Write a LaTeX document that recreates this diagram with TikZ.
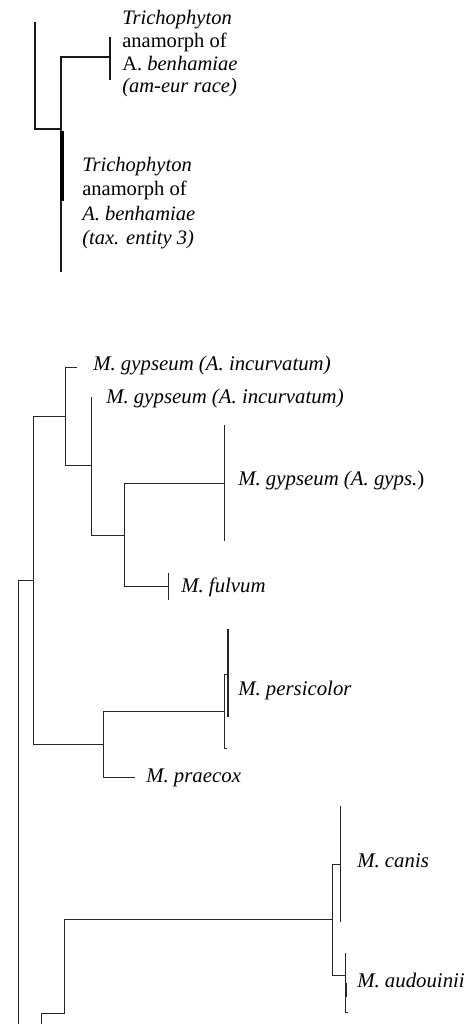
\documentclass[tikz,border=0pt]{standalone}
\usepackage{fontspec}
\setmainfont{Liberation Serif}
\begin{document}
\begin{tikzpicture}[x=0.75pt,y=-0.75pt,
  br/.style={line width=0.75pt, black!85},
  topbr/.style={line width=1.4pt, black!90},
  heavybr/.style={line width=2.5pt, black},
  lab/.style={anchor=base west, inner sep=0pt, font=\fontsize{15.6}{18}\selectfont\itshape},
  toplab/.style={anchor=west, inner sep=0pt, align=left, font=\fontsize{15.4}{17}\selectfont}]
\useasboundingbox (0,0) rectangle (471,1024);
% ---------- upper tree ----------
\coordinate (a0) at (35,22);
\coordinate (a1) at (35,129);
\coordinate (b0) at (61,57);
\coordinate (b1) at (61,272);
\coordinate (c0) at (110,37);
\coordinate (c1) at (110,80);
\coordinate (h0) at (62,131);
\coordinate (h1) at (62,201);
\draw[topbr] (a0) -- (a1) -- (a1 -| b0);
\draw[topbr] (b1) -- (b0) -- (b0 -| c0);
\draw[topbr] (c0) -- (c1);
\draw[heavybr] (h0) -- (h1);
\node[toplab] (amEur) at (122,54) {\textit{Trichophyton}\\anamorph of\\A. \textit{benhamiae}\\\textit{(am-eur race)}};
\node[toplab, font=\fontsize{15.4}{18.2}\selectfont] (tax3) at (82,203) {\textit{Trichophyton}\\anamorph of\\\textit{A. benhamiae}\\\textit{(tax. entity 3)}};
% ---------- lower tree ----------
\coordinate (r0) at (18,580);
\coordinate (r1) at (18,1024);
\coordinate (n1t) at (33,416);
\coordinate (n1b) at (33,744);
\coordinate (n2t) at (65,367);
\coordinate (n2b) at (65,465);
\coordinate (l1) at (77,367);
\coordinate (n3t) at (91,397);
\coordinate (n3b) at (91,535);
\coordinate (n4t) at (124,483);
\coordinate (n4b) at (124,586);
\coordinate (n5t) at (224,425);
\coordinate (n5b) at (224,541);
\coordinate (fu) at (168,586);
\coordinate (fut) at (168,573);
\coordinate (fub) at (168,600);
\coordinate (n6t) at (103,711);
\coordinate (n6b) at (103,777);
\coordinate (n7t) at (224,674);
\coordinate (n7b) at (224,748);
\coordinate (n7th) at (227,674);
\coordinate (n7bh) at (227,748);
\coordinate (pe0) at (228,629);
\coordinate (pe1) at (228,717);
\coordinate (pr) at (135,777);
\coordinate (n9t) at (41,1013);
\coordinate (n9b) at (41,1024);
\coordinate (n8t) at (64,919);
\coordinate (n8b) at (64,1013);
\coordinate (n10t) at (332,864);
\coordinate (n10b) at (332,975);
\coordinate (ca0) at (340,806);
\coordinate (ca1) at (340,922);
\coordinate (au0) at (345,953);
\coordinate (au1) at (345,1012);
\coordinate (au1h) at (348,1012);
\coordinate (auh0) at (346,983);
\coordinate (auh1) at (346,997);

\draw[br] (r1) -- (r0) -- (r0 -| n1t);
\draw[br] (n1t) -- (n1b);
\draw[br] (n1t) -- (n1t -| n2t);
\draw[br] (l1) -- (n2t) -- (n2b) -- (n2b -| n3t);
\draw[br] (n3t) -- (n3b) -- (n3b -| n4t);
\draw[br] (n4t) -- (n4b);
\draw[br] (n4t) -- (n4t -| n5t);
\draw[br] (n5t) -- (n5b);
\draw[br] (n4b) -- (fu);
\draw[br] (fut) -- (fub);
\draw[br] (n1b) -- (n1b -| n6t);
\draw[br] (n6t) -- (n6b) -- (pr);
\draw[br] (n6t) -- (n6t -| n7t);
\draw[br] (n7th) -- (n7t) -- (n7b) -- (n7bh);
\draw[br, line width=1.1pt] (pe0) -- (pe1);
\draw[br] (n9b) -- (n9t) -- (n8b) -- (n8t) -- (n8t -| n10t);
\draw[br] (n10t) -- (n10b);
\draw[br] (n10t) -- (n10t -| ca0);
\draw[br] (ca0) -- (ca1);
\draw[br] (n10b) -- (n10b -| au0);
\draw[br] (au0) -- (au1) -- (au1h);
\draw[br, line width=2pt] (auh0) -- (auh1);

\node[lab] (incA) at (93,370) {M. gypseum (A. incurvatum)};
\node[lab] (incB) at (106,403) {M. gypseum (A. incurvatum)};
\node[lab] (gyps) at (238,485) {M. gypseum (A. gyps.\textup{)}};
\node[lab] (fulv) at (181,592) {M. fulvum};
\node[lab] (pers) at (238,695) {M. persicolor};
\node[lab] (prae) at (146,782) {M. praecox};
\node[lab] (cani) at (357,867) {M. canis};
\node[lab] (audo) at (357,987) {M. audouinii};
\end{tikzpicture}
\end{document}
